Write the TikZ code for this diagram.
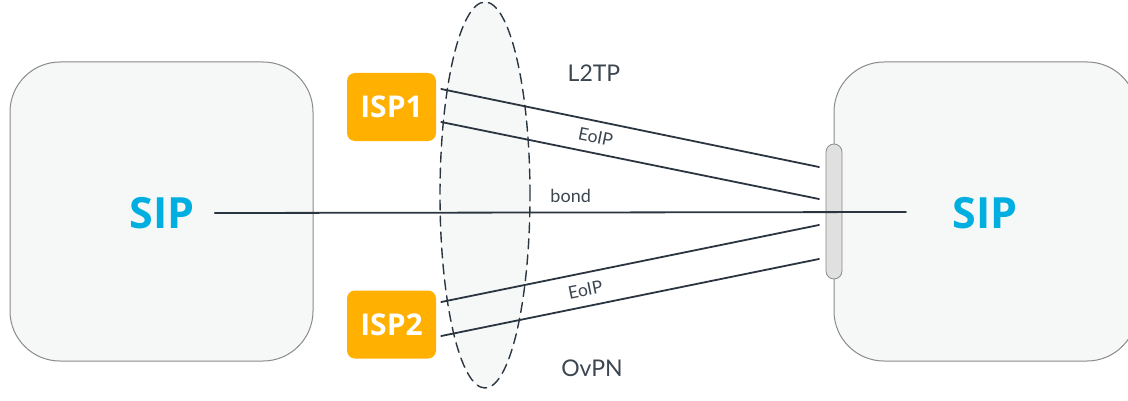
\documentclass[tikz,border=0pt]{standalone}
\usepackage{fontspec}
\setmainfont{Lato}
\newfontfamily\sipsans{Open Sans}
\usetikzlibrary{calc,positioning}
\definecolor{ispor}{HTML}{FFB000}
\definecolor{sipblue}{HTML}{00AEDF}
\definecolor{linkcol}{HTML}{2B3540}
\definecolor{labcol}{HTML}{3C4650}
\definecolor{boxfill}{HTML}{F6F8F8}
\definecolor{boxline}{HTML}{8A8A8A}
\definecolor{portfill}{HTML}{E0E0E0}

\begin{document}
\begin{tikzpicture}[line cap=round,line join=round,x=1pt,y=1pt,
    router/.style={draw=boxline,line width=1pt,fill=boxfill,rounded corners=50pt},
    isp/.style={fill=ispor,rounded corners=8pt,minimum width=89pt,minimum height=68pt,
        text=white,font=\sipsans\bfseries\fontsize{30}{30}\selectfont},
    siplabel/.style={text=sipblue,font=\sipsans\bfseries\fontsize{43}{43}\selectfont,inner sep=20pt},
    link/.style={draw=linkcol,line width=1.8pt},
    lab/.style={text=labcol,font=\fontsize{23}{23}\selectfont},
    small/.style={text=labcol,font=\fontsize{17.5}{17.5}\selectfont,inner sep=1pt}]
    \useasboundingbox (0,0) rectangle (1128,400);
    \clip (0,0) rectangle (1128,400);
    % routers
    \draw [router] (10,39) rectangle (313,338);
    \draw [router] (834,39) rectangle (1137,338);
    \draw [draw=boxline,fill=portfill,line width=0.8pt,rounded corners=8pt] (826,121) rectangle (842,256);
    % bonding ellipse
    \draw [dash pattern=on 10pt off 6pt,line width=1.4pt,draw=linkcol,fill=boxfill] (485,205) ellipse (45 and 193);
    % nodes
    \node [siplabel] (sipL) at (162,187) {SIP};
    \node [siplabel] (sipR) at (985,187) {SIP};
    \node [isp] (isp1) at (391.5,293) {ISP1};
    \node [isp] (isp2) at (391.5,75.5) {ISP2};
    \coordinate (p1) at (819,233);
    \coordinate (p2) at (819,201);
    \coordinate (p3) at (819,175);
    \coordinate (p4) at (819,141);
    \coordinate (bondend) at (906,188);
    % tunnels
    \draw [link] ($(isp1.east)+(5,18)$) -- (p1);
    \draw [link] ($(isp1.east)+(5,-15)$) -- (p2) node [small,pos=0.4,sloped,above=8pt] {EoIP};
    \draw [link] ($(isp2.east)+(5,22.5)$) -- (p3);
    \draw [link] ($(isp2.east)+(5,-11.5)$) -- (p4) node [small,pos=0.39,sloped,above=8pt] {EoIP};
    \draw [link] (sipL.east) -- (bondend) node [small,font=\fontsize{18}{18}\selectfont,pos=0.515,above=8pt] {bond};
    % labels
    \node [lab] (l2tp) at (594,327) {L2TP};
    \node [lab] (ovpn) at (592,32) {OvPN};
\end{tikzpicture}
\end{document}
